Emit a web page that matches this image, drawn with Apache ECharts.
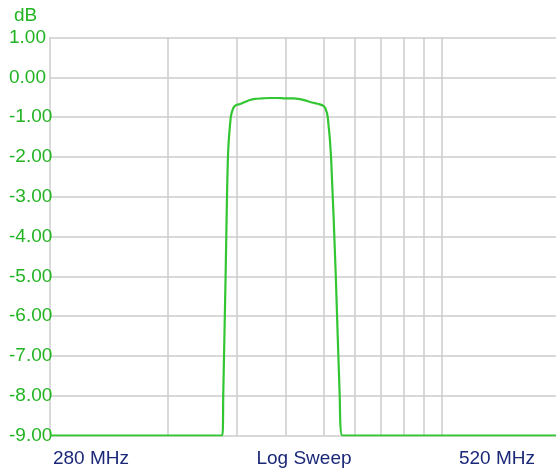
<!DOCTYPE html>
<html>
<head>
<meta charset="utf-8">
<script src="https://cdn.jsdelivr.net/npm/echarts@6/dist/echarts.min.js"></script>
<style>
html,body{margin:0;padding:0;background:#fff;}
#chart{width:557px;height:470px;}
</style>
</head>
<body>
<div id="chart"></div>
<script>
// Sweep frequencies (MHz) and response (dB)
var freqs = [280, 345.7, 346.1, 347.1, 348.1, 349.3, 350.2, 351.0, 352.0, 353.3, 355.4, 357.5, 359.8, 363.0, 366.5, 370.0, 373.3, 377.0, 380.2, 382.5, 385.0, 387.2, 389.5, 391.2, 392.2, 393.3, 394.9, 397.2, 399.1, 400.4, 520];
var gainDb = [-9, -9, -8.0, -5.0, -2.0, -1.0, -0.8, -0.72, -0.69, -0.67, -0.62, -0.57, -0.54, -0.53, -0.52, -0.52, -0.53, -0.53, -0.55, -0.58, -0.62, -0.65, -0.68, -0.72, -0.78, -1.0, -2.0, -5.0, -8.0, -9, -9];
// Vertical grid line positions (MHz) on the log sweep
var gridFreqs = [323.4, 352.0, 373.7, 391.5, 406.7, 419.9, 431.8, 442.5, 452.3];
var yTicks = {min: -9, max: 1, step: 1};
var bottomLabels = ['280 MHz', 'Log Sweep', '520 MHz'];
var yUnit = 'dB';

var FONT = '"Liberation Sans", Arial, Helvetica, sans-serif';
var GREEN_TXT = '#22b422';
var GREEN_LINE = '#33c633';
var NAVY = '#1b2878';
var GRID = '#cdcdcd';

var seriesData = freqs.map(function (f, i) { return [f, gainDb[i]]; });

var chart = echarts.init(document.getElementById('chart'), null, {renderer: 'canvas'});
chart.setOption({
  animation: false,
  backgroundColor: '#ffffff',
  grid: {left: 50, right: 1, top: 37.5, bottom: 34.5, containLabel: false},
  xAxis: {
    type: 'log', logBase: 10, min: freqs[0], max: freqs[freqs.length - 1],
    axisLine: {show: false}, axisTick: {show: false}, axisLabel: {show: false},
    splitLine: {show: false}
  },
  yAxis: {
    type: 'value', min: yTicks.min, max: yTicks.max, interval: yTicks.step,
    axisLine: {show: true, lineStyle: {color: GRID, width: 1.5}},
    axisTick: {show: false},
    splitLine: {show: true, lineStyle: {color: GRID, width: 1.5}},
    axisLabel: {
      align: 'left', margin: 41, color: GREEN_TXT, fontSize: 19, fontFamily: FONT,
      verticalAlign: 'middle', padding: [0, 0, 3, 0],
      formatter: function (v) { return v.toFixed(2); }
    }
  },
  series: [
    {
      type: 'line', data: seriesData, z: 1, silent: true, showSymbol: false,
      lineStyle: {opacity: 0},
      markLine: {
        silent: true, symbol: 'none', animation: false,
        label: {show: false},
        lineStyle: {color: GRID, width: 1.5, type: 'solid'},
        data: gridFreqs.map(function (f) { return {xAxis: f}; })
      }
    },
    {
      type: 'line', data: seriesData, z: 5, showSymbol: false, smooth: 0.25,
      lineStyle: {color: GREEN_LINE, width: 2.2}
    }
  ],
  graphic: [
    {type: 'text', left: 14, top: 6, style: {text: yUnit, fill: GREEN_TXT, font: '19px ' + FONT}},
    {type: 'text', x: 91, y: 459, style: {text: bottomLabels[0], fill: NAVY, font: '19px ' + FONT, align: 'center', verticalAlign: 'middle'}},
    {type: 'text', x: 304, y: 459, style: {text: bottomLabels[1], fill: NAVY, font: '19px ' + FONT, align: 'center', verticalAlign: 'middle'}},
    {type: 'text', x: 497, y: 459, style: {text: bottomLabels[2], fill: NAVY, font: '19px ' + FONT, align: 'center', verticalAlign: 'middle'}}
  ]
});
</script>
</body>
</html>
